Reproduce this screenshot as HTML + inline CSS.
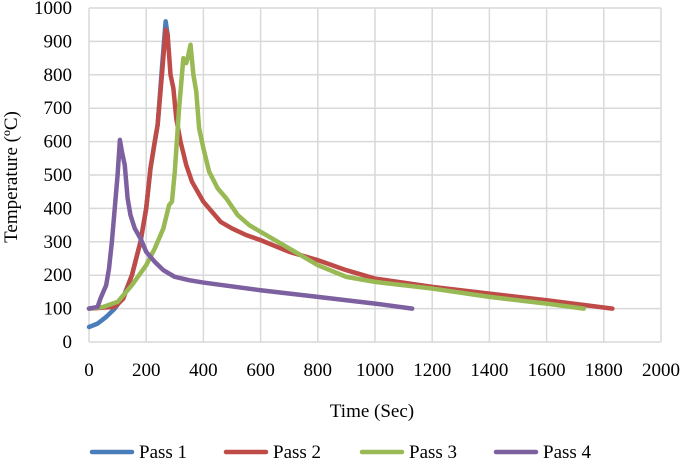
<!DOCTYPE html>
<html><head><meta charset="utf-8"><style>
body{margin:0;background:#fff;}
svg{display:block;font-family:"Liberation Serif",serif;}
</style></head><body>
<svg id="chart" width="685" height="460" viewBox="0 0 685 460"></svg>
<script>
const xTicks=[0,200,400,600,800,1000,1200,1400,1600,1800,2000];
const yTicks=[0,100,200,300,400,500,600,700,800,900,1000];
const seriesNames=["Pass 1","Pass 2","Pass 3","Pass 4"];
const seriesColors=["#4a7ebb","#be4b48","#98b954","#7d60a0"];
const pass1=[[0,45],[30,55],[60,75],[90,100],[120,135],[150,200],[180,300],[200,400],[215,520],[230,600],[240,650],[255,820],[268,960],[275,920]];
const pass2=[[0,100],[90,105],[120,130],[150,200],[180,300],[200,400],[215,520],[230,600],[240,650],[255,800],[268,935],[275,920],[285,800],[295,760],[305,670],[320,600],[340,530],[360,480],[380,450],[400,420],[430,390],[460,360],[500,340],[550,320],[600,305],[700,270],[800,245],[900,215],[1000,190],[1200,165],[1400,145],[1600,125],[1830,100]];
const pass3=[[0,100],[50,105],[100,120],[150,170],[200,230],[230,280],[260,340],[280,410],[290,420],[300,510],[315,700],[330,850],[340,835],[345,850],[355,890],[365,800],[375,750],[385,640],[400,580],[420,510],[450,460],[480,430],[520,380],[560,350],[600,330],[700,280],[800,230],[900,195],[1000,180],[1200,160],[1400,135],[1600,115],[1730,100]];
const pass4=[[0,100],[30,105],[40,130],[50,150],[60,170],[70,220],[80,300],[90,400],[100,500],[108,605],[115,570],[125,530],[135,430],[145,380],[160,340],[180,310],[200,270],[230,240],[260,215],[300,195],[350,185],[400,178],[600,155],[800,135],[1000,115],[1130,100]];
const allSeries=[pass1,pass2,pass3,pass4];
const svg=document.getElementById('chart');
const NS='http://www.w3.org/2000/svg';
const X0=89,X1=661,Y0=342,Y1=8;
const xs=v=>X0+(v-0)/2000*(X1-X0);
const ys=v=>Y0-(v/1000)*(Y0-Y1);
function mk(t,a){const e=document.createElementNS(NS,t);for(const k in a)e.setAttribute(k,a[k]);svg.appendChild(e);return e;}
xTicks.forEach(t=>{
  const l=mk('line',{x1:xs(t),x2:xs(t),y1:Y1,y2:Y0,stroke:'#d9d9d9','stroke-width':1.5});
  
  
  const tx=mk('text',{x:xs(t),y:376,'text-anchor':'middle','font-size':19,fill:'#000'});tx.textContent=t;
  
  
});
yTicks.forEach(t=>{
  const l=mk('line',{x1:X0,x2:X1,y1:ys(t),y2:ys(t),stroke:'#d9d9d9','stroke-width':1.5});
  
  
  const tx=mk('text',{x:72,y:ys(t)+6,'text-anchor':'end','font-size':19,fill:'#000'});tx.textContent=t;
  
  
});
allSeries.forEach((s,i)=>{
  const p=mk('polyline',{points:s.map(d=>xs(d[0])+','+ys(d[1])).join(' '),fill:'none',stroke:seriesColors[i],'stroke-width':4.5,'stroke-linejoin':'round','stroke-linecap':'round'});
  
  
});
const xt=mk('text',{x:372,y:417,'text-anchor':'middle','font-size':19,fill:'#000'});xt.textContent='Time (Sec)';


const yt=mk('text',{x:0,y:0,'text-anchor':'middle','font-size':19,fill:'#000',transform:'translate(17,177) rotate(-90)'});yt.textContent='Temperature (ºC)';


const lx=[92,226,362,496];
seriesNames.forEach((n,i)=>{
  const l=mk('line',{x1:lx[i],x2:lx[i]+40,y1:452,y2:452,stroke:seriesColors[i],'stroke-width':4.5,'stroke-linecap':'round'});
  
  
  const t=mk('text',{x:lx[i]+47,y:458,'font-size':19,fill:'#000'});t.textContent=n;
  
  
});
</script>
</body></html>
